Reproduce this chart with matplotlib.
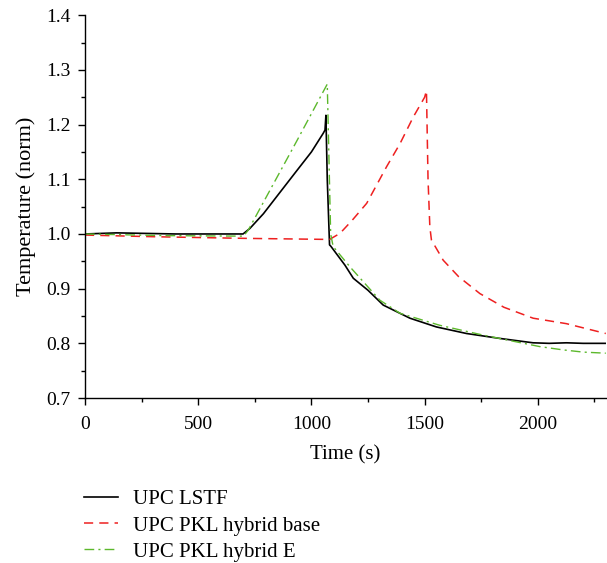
import matplotlib
matplotlib.use("Agg")
import matplotlib.pyplot as plt
from matplotlib.ticker import MultipleLocator, FormatStrFormatter

plt.rcParams['font.family'] = ['Liberation Serif', 'DejaVu Serif']

# UPC LSTF (black solid)
lstf_t = [0, 140, 400, 698, 728, 788, 846, 934, 1000, 1052, 1060, 1064, 1070, 1080, 1085, 1148, 1185, 1250, 1317, 1435, 1552, 1685, 1832, 1979, 2050, 2126, 2200, 2300]
lstf_y = [1.000, 1.002, 1.000, 1.000, 1.010, 1.037, 1.068, 1.115, 1.150, 1.184, 1.190, 1.217, 1.100, 0.980, 0.978, 0.943, 0.919, 0.897, 0.870, 0.846, 0.830, 0.818, 0.809, 0.801, 0.800, 0.801, 0.800, 0.800]

# UPC PKL hybrid base (red dashed)
base_t = [0, 300, 700, 1080, 1126, 1180, 1244, 1332, 1391, 1450, 1500, 1508, 1515, 1523, 1530, 1582, 1650, 1744, 1850, 1979, 2126, 2300]
base_y = [0.998, 0.995, 0.992, 0.990, 1.001, 1.025, 1.056, 1.123, 1.165, 1.214, 1.250, 1.262, 1.100, 1.013, 0.989, 0.952, 0.922, 0.891, 0.866, 0.846, 0.836, 0.818]

# UPC PKL hybrid E (green dash-dot)
hybe_t = [0, 350, 700, 721, 934, 1070, 1085, 1096, 1170, 1302, 1391, 1567, 1759, 2009, 2112, 2200, 2300]
hybe_y = [1.000, 0.997, 0.996, 1.007, 1.169, 1.274, 1.000, 0.977, 0.940, 0.879, 0.855, 0.833, 0.815, 0.794, 0.788, 0.784, 0.782]

fig = plt.figure(figsize=(6.07, 5.63), dpi=100)
ax = fig.add_axes([0.140, 0.293, 0.858, 0.680])

ax.plot(lstf_t, lstf_y, color='black', lw=1.2, label='UPC LSTF')
ax.plot(base_t, base_y, color='#ee2020', lw=1.1, dashes=(6, 4), label='UPC PKL hybrid base')
ax.plot(hybe_t, hybe_y, color='#5cb82c', lw=1.0, dashes=(7, 3, 1.5, 3), label='UPC PKL hybrid E')

ax.set_xlim(0, 2300)
ax.set_ylim(0.7, 1.4)
ax.xaxis.set_major_locator(MultipleLocator(500))
ax.xaxis.set_minor_locator(MultipleLocator(250))
ax.yaxis.set_major_locator(MultipleLocator(0.1))
ax.yaxis.set_minor_locator(MultipleLocator(0.05))
ax.yaxis.set_major_formatter(FormatStrFormatter('%.1f'))
for s in ['top', 'right']:
    ax.spines[s].set_visible(False)
for s in ['left', 'bottom']:
    ax.spines[s].set_linewidth(1.0)
ax.tick_params(which='major', direction='out', length=5, width=1, labelsize=14)
ax.tick_params(which='minor', direction='out', length=3, width=1)
ax.tick_params(axis='x', which='major', pad=8)
ax.tick_params(axis='y', which='major', pad=5.5)
ax.set_xlabel('Time (s)', fontsize=15, labelpad=8.5)
ax.set_ylabel('Temperature (norm)', fontsize=16, labelpad=7)

fig.legend(loc='upper left', bbox_to_anchor=(0.124, 0.145), frameon=False,
           fontsize=15, handlelength=1.65, handletextpad=0.72, labelspacing=0.32,
           borderaxespad=0)

fig.savefig('out.png', dpi=100)
